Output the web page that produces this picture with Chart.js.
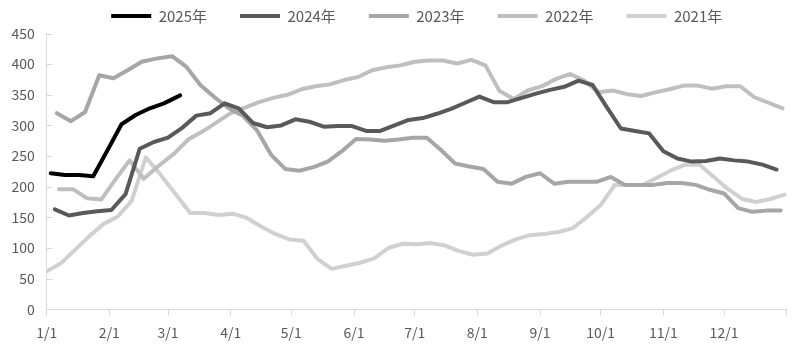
<!DOCTYPE html>
<html>
<head>
<meta charset="utf-8">
<script src="https://cdn.jsdelivr.net/npm/chart.js@4"></script>
<style>
html,body{margin:0;padding:0;background:#ffffff;}
#wrap{width:797px;height:355px;}
</style>
</head>
<body>
<div id="wrap"><canvas id="c" width="797" height="355"></canvas></div>
<script>
// ---- data ----
const seriesNames  = ['2025年', '2024年', '2023年', '2022年', '2021年'];
const seriesYears  = [2025, 2024, 2023, 2022, 2021];
const seriesColors = ['#000000', '#595959', '#a6a6a6', '#bfbfbf', '#d0d0d0'];

const values2025 = [222, 219, 219, 217, 259, 302, 317, 328, 336, 349];
const values2024 = [163, 153, 157, 160, 162, 188, 262, 273, 280, 296,
                    316, 320, 336, 328, 304, 297, 300, 310, 306, 298,
                    299, 299, 291, 291, 300, 309, 312, 319, 327, 337,
                    347, 338, 338, 345, 352, 358, 363, 373, 366, 330,
                    295, 291, 287, 258, 246, 241, 242, 246, 243, 241,
                    236, 228];
const values2023 = [320, 307, 322, 382, 377, 390, 404, 409, 413, 396,
                    366, 346, 328, 316, 292, 252, 229, 226, 232, 241,
                    258, 278, 277, 275, 277, 280, 280, 260, 238, 233,
                    229, 208, 205, 216, 222, 205, 208, 208, 208, 216,
                    203, 203, 203, 206, 206, 203, 195, 189, 165, 159,
                    161, 161];
const values2022 = [196, 196, 181, 179, 212, 243, 213, 233, 254, 277,
                    290, 305, 320, 329, 338, 345, 350, 359, 364, 367,
                    374, 379, 390, 395, 398, 404, 406, 406, 401, 407,
                    398, 356, 343, 357, 364, 376, 384, 373, 354, 357,
                    351, 348, 354, 359, 365, 365, 360, 364, 364, 346,
                    337, 328];
const values2021 = [62, 75, 97, 119, 139, 151, 177, 248, 221, 187,
                    157, 157, 154, 156, 149, 135, 123, 114, 112, 82,
                    66, 71, 76, 83, 100, 107, 106, 108, 104, 95,
                    89, 91, 104, 114, 121, 123, 126, 132, 150, 170,
                    203, 203, 203, 215, 227, 236, 236, 216, 196, 180,
                    175, 180, 187];
const seriesValues = [values2025, values2024, values2023, values2022, values2021];

const monthTickLabels = ['1/1', '2/1', '3/1', '4/1', '5/1', '6/1', '7/1', '8/1', '9/1', '10/1', '11/1', '12/1', ''];
const yMin = 0, yMax = 450, yStep = 50;

// ---- calendar helpers (x = day position on a common month/day axis) ----
const DAY = 86400000;
function axisDay(month, date) {
  return Math.round((Date.UTC(2024, month, date) - Date.UTC(2024, 0, 1)) / DAY);
}
function weeklyFridays(year, count) {
  let t = Date.UTC(year, 0, 1);
  while (new Date(t).getUTCDay() !== 5) t += DAY;
  const out = [];
  for (let i = 0; i < count; i++) {
    const d = new Date(t + i * 7 * DAY);
    out.push(axisDay(d.getUTCMonth(), d.getUTCDate()));
  }
  return out;
}
const monthTickDays = monthTickLabels.map((_, m) => axisDay(m, 1));

const FONT = '"Noto Sans CJK SC", "Noto Sans", sans-serif';
const TEXT = '#595959';
const AXIS = '#d9d9d9';

const datasets = seriesNames.map((name, i) => {
  const vals = seriesValues[i];
  const xs = weeklyFridays(seriesYears[i], vals.length);
  return {
    label: name,
    data: vals.map((v, j) => ({x: xs[j], y: v})),
    borderColor: seriesColors[i],
    backgroundColor: seriesColors[i],
    borderWidth: 4,
    pointRadius: 0,
    pointHoverRadius: 0,
    tension: 0,
    fill: false,
    borderCapStyle: 'round',
    borderJoinStyle: 'round'
  };
});

const yInnerTicks = {
  id: 'yInnerTicks',
  afterDraw(chart) {
    const y = chart.scales.y;
    const ctx = chart.ctx;
    ctx.save();
    ctx.strokeStyle = AXIS;
    ctx.lineWidth = 1;
    y.ticks.forEach(t => {
      const py = Math.round(y.getPixelForValue(t.value)) + 0.5;
      ctx.beginPath();
      ctx.moveTo(y.right, py);
      ctx.lineTo(y.right + 6, py);
      ctx.stroke();
    });
    ctx.restore();
  }
};

new Chart(document.getElementById('c'), {
  type: 'line',
  data: {datasets},
  options: {
    responsive: false,
    animation: false,
    devicePixelRatio: 1,
    layout: {padding: {left: 0, right: 10.3, top: -24.5, bottom: 0}},
    plugins: {
      tooltip: {enabled: false},
      legend: {
        position: 'top',
        fullSize: false,
        labels: {
          boxWidth: 40,
          boxHeight: 4,
          padding: 33,
          color: TEXT,
          font: {family: FONT, size: 15},
          generateLabels(chart) {
            const items = Chart.defaults.plugins.legend.labels.generateLabels(chart);
            items.forEach(it => { it.fillStyle = it.strokeStyle; it.lineWidth = 0; });
            return items;
          }
        }
      }
    },
    scales: {
      x: {
        type: 'linear',
        min: monthTickDays[0],
        max: monthTickDays[monthTickDays.length - 1],
        afterBuildTicks(s) { s.ticks = monthTickDays.map(v => ({value: v})); },
        afterFit(s) { s.height = 45.7; },
        ticks: {
          autoSkip: false,
          maxRotation: 0,
          padding: 8.5,
          color: TEXT,
          font: {family: FONT, size: 14},
          callback: (v, i) => monthTickLabels[i]
        },
        grid: {drawOnChartArea: false, drawTicks: true, tickLength: 6, color: AXIS},
        border: {display: true, color: AXIS, width: 1}
      },
      y: {
        min: yMin,
        max: yMax,
        afterFit(s) { s.width = 46.7; },
        ticks: {
          stepSize: yStep,
          padding: 12,
          color: TEXT,
          font: {family: FONT, size: 14}
        },
        grid: {drawOnChartArea: false, drawTicks: false, color: AXIS},
        border: {display: true, color: AXIS, width: 1}
      }
    }
  },
  plugins: [yInnerTicks]
});
</script>
</body>
</html>
